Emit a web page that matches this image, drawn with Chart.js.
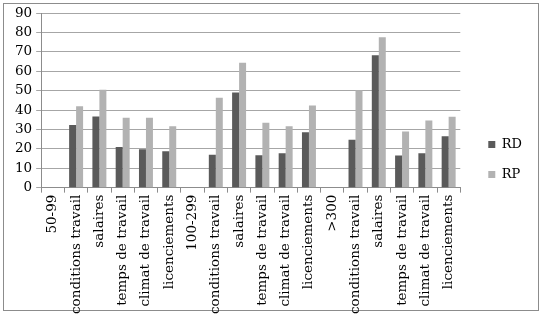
<!DOCTYPE html>
<html>
<head>
<meta charset="utf-8">
<script src="https://cdn.jsdelivr.net/npm/chart.js@4/dist/chart.umd.min.js"></script>
<style>
  html, body { margin: 0; padding: 0; background: #fff; }
  #wrap { width: 551px; height: 320px; position: relative; }
</style>
</head>
<body>
<div id="wrap"><canvas id="c" width="551" height="320"></canvas></div>
<script>
// categories (group headers have no bars)
const categories = [
    "50-99", "conditions travail", "salaires", "temps de travail", "climat de travail", "licenciements",
    "100-299", "conditions travail", "salaires", "temps de travail", "climat de travail", "licenciements",
    ">300", "conditions travail", "salaires", "temps de travail", "climat de travail", "licenciements"
];
const rd = [null, 32.3, 36.7, 21, 19.8, 18.8, null, 17, 49, 16.7, 17.7, 28.6, null, 24.7, 68.2, 16.5, 17.7, 26.5];
const rp = [null, 41.9, 50.4, 36, 36, 31.6, null, 46.3, 64.4, 33.5, 31.6, 42.3, null, 50.2, 77.5, 28.9, 34.6, 36.5];
const yTicks = [0, 10, 20, 30, 40, 50, 60, 70, 80, 90];

const font = "'DejaVu Serif', 'Liberation Serif', serif";

// cadre gris autour du graphique
const frame = {
    id: "frame",
    beforeDraw(chart){
        const ctx = chart.ctx;
        ctx.save();
        ctx.strokeStyle = "#8c8c8c";
        ctx.lineWidth = 1;
        ctx.strokeRect(3.5, 3.5, 535, 307);
        ctx.restore();
    }
};

// pousse la légende un peu plus à droite et vers le haut
const legendShift = {
    id: "legendShift",
    afterLayout(chart){
        chart.legend.left += 11;
        chart.legend.right += 11;
        chart.legend.top -= 5;
        chart.legend.bottom -= 5;
    }
};

new Chart(document.getElementById("c"), {
    type: "bar",
    data: {
        labels: categories,
        datasets: [
            { label: "RD", data: rd, backgroundColor: "#5a5a5a" },
            { label: "RP", data: rp, backgroundColor: "#b2b2b2" }
        ]
    },
    options: {
        responsive: false,
        animation: false,
        layout: { padding: { left: 11, top: 13, right: 30, bottom: 4 } },
        datasets: { bar: { categoryPercentage: 0.6, barPercentage: 1 } },
        plugins: {
            legend: {
                position: "right",
                labels: {
                    boxWidth: 7, boxHeight: 7, padding: 17,
                    color: "#000",
                    font: { family: font, size: 13 }
                }
            },
            tooltip: { enabled: false }
        },
        scales: {
            x: {
                offset: true,
                grid: { display: true, drawOnChartArea: false, drawTicks: true, tickLength: 5, color: "#8c8c8c", offset: true },
                border: { color: "#8c8c8c" },
                ticks: {
                    autoSkip: false, maxRotation: 90, minRotation: 90,
                    color: "#000", padding: 2,
                    font: { family: font, size: 13.5 }
                }
            },
            y: {
                min: 0, max: 90,
                afterBuildTicks(axis){ axis.ticks = yTicks.map(v => ({ value: v })); },
                grid: { color: "#a6a6a6", tickLength: 5 },
                border: { color: "#8c8c8c" },
                ticks: {
                    autoSkip: false,
                    color: "#000", padding: 4,
                    font: { family: font, size: 13.5 }
                }
            }
        }
    },
    plugins: [frame, legendShift]
});
</script>
</body>
</html>
